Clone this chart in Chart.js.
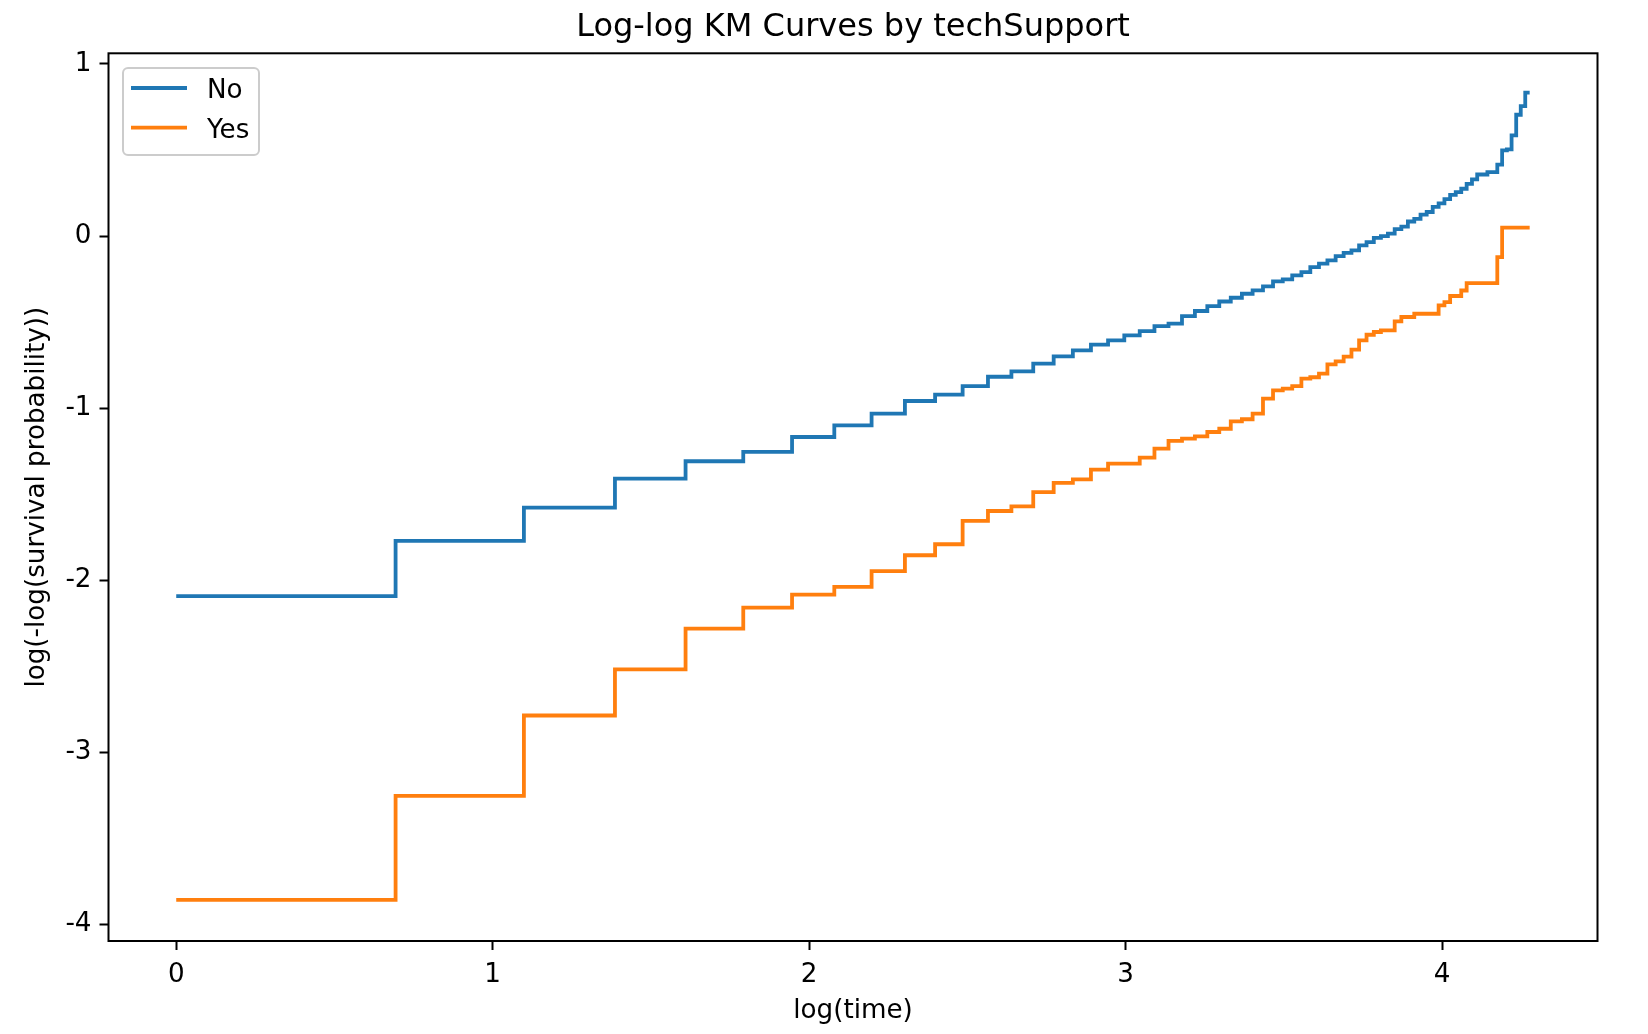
<!DOCTYPE html>
<html>
<head>
<meta charset="utf-8">
<title>Log-log KM Curves by techSupport</title>
<script src="https://cdn.jsdelivr.net/npm/chart.js@4.4.1/dist/chart.umd.min.js"></script>
<style>
  html, body { margin: 0; padding: 0; background: #fff; }
  #wrap { width: 1648px; height: 1034px; }
</style>
</head>
<body>
<div id="wrap"><canvas id="km" width="1648" height="1034"></canvas></div>
<script>
// tenure in months, plotted as log(time)
const times = [1, 2, 3, 4, 5, 6, 7, 8, 9, 10, 11, 12, 13, 14, 15, 16, 17, 18,
    19, 20, 21, 22, 23, 24, 25, 26, 27, 28, 29, 30, 31, 32, 33, 34, 35, 36,
    37, 38, 39, 40, 41, 42, 43, 44, 45, 46, 47, 48, 49, 50, 51, 52, 53, 54,
    55, 56, 57, 58, 59, 60, 61, 62, 63, 64, 65, 66, 67, 68, 69, 70, 71, 72];

// log(-log(S(t)))
const noValues = [-2.092, -1.771, -1.577, -1.409, -1.308, -1.254, -1.167, -1.099, -1.031, -0.958,
    -0.921, -0.872, -0.817, -0.786, -0.741, -0.699, -0.664, -0.631, -0.606, -0.577,
    -0.552, -0.523, -0.509, -0.465, -0.435, -0.407, -0.380, -0.358, -0.335, -0.315,
    -0.292, -0.263, -0.251, -0.228, -0.209, -0.180, -0.160, -0.141, -0.116, -0.097,
    -0.083, -0.054, -0.035, -0.010, 0.000, 0.014, 0.040, 0.055, 0.085, 0.100,
    0.125, 0.140, 0.170, 0.190, 0.215, 0.240, 0.255, 0.275, 0.304, 0.330,
    0.358, 0.358, 0.372, 0.372, 0.415, 0.498, 0.504, 0.585, 0.705, 0.755,
    0.833, 0.833];

const yesValues = [-3.856, -3.252, -2.785, -2.517, -2.280, -2.158, -2.083, -2.038, -1.946, -1.854,
    -1.790, -1.654, -1.597, -1.570, -1.487, -1.434, -1.413, -1.357, -1.322, -1.322,
    -1.287, -1.235, -1.190, -1.177, -1.163, -1.138, -1.119, -1.076, -1.064, -1.031,
    -0.944, -0.896, -0.886, -0.871, -0.828, -0.820, -0.799, -0.745, -0.728, -0.700,
    -0.660, -0.606, -0.573, -0.557, -0.548, -0.548, -0.495, -0.470, -0.470, -0.451,
    -0.451, -0.451, -0.451, -0.402, -0.383, -0.348, -0.348, -0.316, -0.273, -0.273,
    -0.273, -0.273, -0.273, -0.273, -0.122, 0.049, 0.049, 0.049, 0.049, 0.049,
    0.049, 0.049];

const groups = ['No', 'Yes'];
const xTicks = [0, 1, 2, 3, 4];
const yTicks = [-4, -3, -2, -1, 0, 1];
const chartTitle = 'Log-log KM Curves by techSupport';

Chart.defaults.font.family = "'DejaVu Sans', sans-serif";
Chart.defaults.color = '#000';

function toPoints(vals) {
    return times.map(function (t, i) {
        return { x: Math.log(t), y: vals[i] };
    });
}

// box around the axes + title centred over the plot area
const frame = {
    id: 'frame',
    afterDatasetsDraw(chart) {
        const a = chart.chartArea, ctx = chart.ctx;
        ctx.save();
        ctx.strokeStyle = '#000';
        ctx.lineWidth = 2;
        ctx.strokeRect(a.left, a.top, a.right - a.left, a.bottom - a.top);
        ctx.font = "32px 'DejaVu Sans'";
        ctx.fillStyle = '#000';
        ctx.textAlign = 'center';
        ctx.textBaseline = 'alphabetic';
        ctx.fillText(chartTitle, (a.left + a.right) / 2, 36);
        ctx.restore();
    }
};

// legend drawn inside the plot, upper left
const innerLegend = {
    id: 'innerLegend',
    afterDraw(chart) {
        const ctx = chart.ctx;
        ctx.save();
        ctx.fillStyle = 'rgba(255,255,255,0.8)';
        ctx.strokeStyle = '#cccccc';
        ctx.lineWidth = 2;
        ctx.beginPath();
        ctx.roundRect(123, 68, 136, 87, 5);
        ctx.fill();
        ctx.stroke();
        ctx.font = "26.2px 'DejaVu Sans'";
        ctx.textBaseline = 'alphabetic';
        chart.data.datasets.forEach(function (ds, i) {
            const ly = 88 + i * 39.7;
            ctx.strokeStyle = ds.borderColor;
            ctx.lineWidth = ds.borderWidth;
            ctx.beginPath();
            ctx.moveTo(131, ly);
            ctx.lineTo(187, ly);
            ctx.stroke();
            ctx.fillStyle = '#000';
            ctx.fillText(ds.label, 207, ly + 10);
        });
        ctx.restore();
    }
};

new Chart(document.getElementById('km'), {
    type: 'line',
    data: {
        datasets: [
            {
                label: groups[0],
                data: toPoints(noValues),
                borderColor: '#1f77b4',
                borderWidth: 3.8,
                stepped: true,
                pointRadius: 0,
                fill: false
            },
            {
                label: groups[1],
                data: toPoints(yesValues),
                borderColor: '#ff7f0e',
                borderWidth: 3.8,
                stepped: true,
                pointRadius: 0,
                fill: false
            }
        ]
    },
    options: {
        responsive: false,
        animation: false,
        devicePixelRatio: 1,
        layout: { padding: { left: 0, right: 50.5, top: 53.3, bottom: 0 } },
        plugins: {
            legend: { display: false },
            tooltip: { enabled: false },
            title: { display: false }
        },
        scales: {
            x: {
                type: 'linear',
                min: -0.214,
                max: 4.491,
                afterBuildTicks: function (s) { s.ticks = xTicks.map(function (v) { return { value: v }; }); },
                afterFit: function (s) { s.height = 93; s.paddingLeft = 0; s.paddingRight = 0; },
                grid: { drawOnChartArea: false, tickLength: 9, tickWidth: 2, tickColor: '#000' },
                border: { display: false },
                ticks: {
                    font: { size: 26.2 },
                    color: '#000',
                    padding: 9,
                    maxRotation: 0,
                    callback: function (v) { return String(v); }
                },
                title: {
                    display: true,
                    text: 'log(time)',
                    font: { size: 26.2 },
                    color: '#000',
                    padding: { top: 0, bottom: 7.5 }
                }
            },
            y: {
                type: 'linear',
                min: -4.095,
                max: 1.062,
                afterBuildTicks: function (s) { s.ticks = yTicks.map(function (v) { return { value: v }; }); },
                afterFit: function (s) { s.width = 108.5; s.paddingTop = 0; s.paddingBottom = 0; },
                grid: { drawOnChartArea: false, tickLength: 9, tickWidth: 2, tickColor: '#000' },
                border: { display: false },
                ticks: {
                    font: { size: 26.2 },
                    color: '#000',
                    padding: 8,
                    callback: function (v) { return String(v); }
                },
                title: {
                    display: true,
                    text: 'log(-log(survival probability))',
                    font: { size: 26.2 },
                    color: '#000',
                    padding: { top: 21.3, bottom: 0 }
                }
            }
        }
    },
    plugins: [frame, innerLegend]
});
</script>
</body>
</html>
